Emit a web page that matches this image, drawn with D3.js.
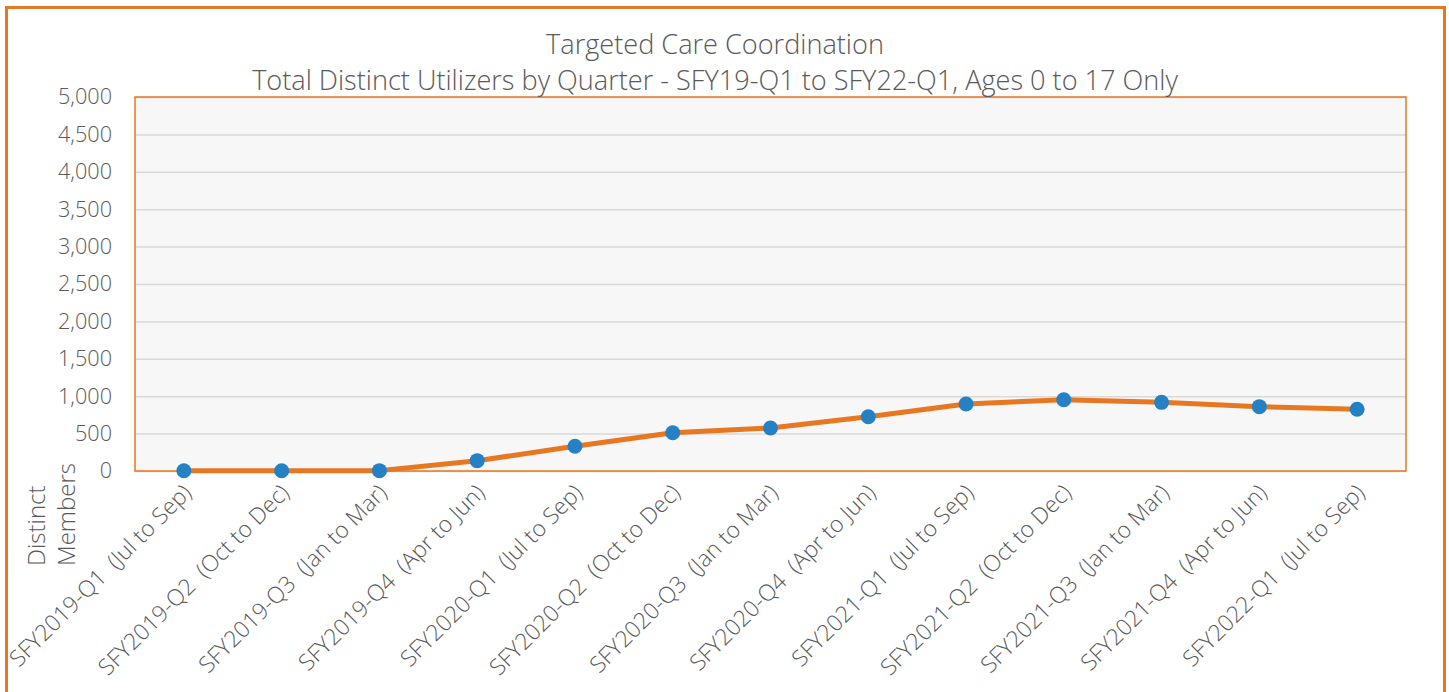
<!DOCTYPE html>
<html>
<head>
<meta charset="utf-8">
<script src="https://cdn.jsdelivr.net/npm/d3@7"></script>
<style>
  body { margin: 0; background: #fff; }
  svg text { font-family: "Open Sans", sans-serif; font-weight: 300; fill: #595959; }
</style>
</head>
<body>
<svg id="chart" width="1449" height="692"></svg>
<script>
// chart data
const quarters = [
  'SFY2019-Q1  (Jul to Sep)', 'SFY2019-Q2  (Oct to Dec)', 'SFY2019-Q3  (Jan to Mar)',
  'SFY2019-Q4  (Apr to Jun)', 'SFY2020-Q1  (Jul to Sep)', 'SFY2020-Q2  (Oct to Dec)',
  'SFY2020-Q3  (Jan to Mar)', 'SFY2020-Q4  (Apr to Jun)', 'SFY2021-Q1  (Jul to Sep)',
  'SFY2021-Q2  (Oct to Dec)', 'SFY2021-Q3  (Jan to Mar)', 'SFY2021-Q4  (Apr to Jun)',
  'SFY2022-Q1  (Jul to Sep)'
];
const utilizers = [3, 3, 5, 138, 330, 512, 575, 726, 896, 953, 918, 860, 825];
const yTicks = [0, 500, 1000, 1500, 2000, 2500, 3000, 3500, 4000, 4500, 5000];
const titleLines = [
  'Targeted Care Coordination',
  'Total Distinct Utilizers by Quarter - SFY19-Q1 to SFY22-Q1, Ages 0 to 17 Only'
];

const orange = '#e87722';
const blue = '#2581c4';

const svg = d3.select('#chart');

// pick a font size so a sample string gets a target width
function fitSize(sample, target, base) {
  const t = svg.append('text').style('font-size', base + 'px').style('white-space', 'pre').text(sample);
  const w = t.node().getComputedTextLength();
  t.remove();
  return base * target / w;
}
const titleSize = fitSize(titleLines[1], 926, 24);
const xSize = fitSize(quarters[0], 246, 19);
const ySize = fitSize('5,000', 54, 20);
const yTitleSize = fitSize('Members', 103, 22);

// outer frame
svg.append('rect')
  .attr('x', 6.5).attr('y', 7.5)
  .attr('width', 1438).attr('height', 700)
  .attr('fill', '#fff')
  .attr('stroke', orange)
  .attr('stroke-width', 3);

const margin = { top: 97, right: 43, bottom: 221, left: 135 },
  width = 1449 - margin.left - margin.right,
  height = 692 - margin.top - margin.bottom;

const g = svg.append('g')
  .attr('transform', `translate(${margin.left},${margin.top})`);

const x = d3.scaleBand()
  .domain(quarters)
  .range([0, width]);

const y = d3.scaleLinear()
  .domain([0, 5000])
  .range([height, 0]);

// plot background
g.append('rect')
  .attr('width', width).attr('height', height)
  .attr('fill', '#f7f7f7');

// grid lines
g.append('g')
  .call(d3.axisLeft(y).tickValues(yTicks).tickSize(-width).tickFormat(''))
  .call(ax => ax.select('.domain').remove())
  .call(ax => ax.selectAll('line').attr('stroke', '#d9d9d9').attr('stroke-width', 1.5));

// plot border
g.append('rect')
  .attr('width', width).attr('height', height)
  .attr('fill', 'none')
  .attr('stroke', orange)
  .attr('stroke-width', 1.5);

// y axis labels
g.append('g')
  .call(d3.axisLeft(y).tickValues(yTicks).tickSize(0).tickPadding(23).tickFormat(d3.format(',')))
  .call(ax => ax.select('.domain').remove())
  .call(ax => ax.selectAll('text').style('font-size', ySize + 'px').attr('fill', '#595959').attr('font-family', null));

// x axis labels
g.append('g')
  .attr('transform', `translate(0,${height})`)
  .call(d3.axisBottom(x).tickSize(0).tickPadding(0))
  .call(ax => ax.select('.domain').remove())
  .call(ax => ax.selectAll('text')
    .style('font-size', xSize + 'px')
    .style('white-space', 'pre')
    .attr('fill', '#595959')
    .attr('font-family', null)
    .attr('dy', null)
    .attr('text-anchor', 'end')
    .attr('transform', 'translate(9,23) rotate(-45)'));

// line
const line = d3.line()
  .x((d, i) => x(quarters[i]) + x.bandwidth() / 2)
  .y(d => y(d));

g.append('path')
  .datum(utilizers)
  .attr('fill', 'none')
  .attr('stroke', orange)
  .attr('stroke-width', 5)
  .attr('stroke-linejoin', 'round')
  .attr('d', line);

// markers
g.selectAll('circle')
  .data(utilizers)
  .enter()
  .append('circle')
  .attr('cx', (d, i) => x(quarters[i]) + x.bandwidth() / 2)
  .attr('cy', d => y(d))
  .attr('r', 7.5)
  .attr('fill', blue);

// title
svg.append('g')
  .selectAll('text')
  .data(titleLines)
  .enter()
  .append('text')
  .attr('x', 715)
  .attr('y', (d, i) => 54 + i * 36)
  .attr('text-anchor', 'middle')
  .style('font-size', titleSize + 'px')
  .text(d => d);

// y axis title
const yTitle = svg.append('text')
  .attr('transform', 'translate(45,566) rotate(-90)')
  .attr('text-anchor', 'start')
  .style('font-size', yTitleSize + 'px');
yTitle.append('tspan').attr('x', 0).attr('dy', 0).text('Distinct');
yTitle.append('tspan').attr('x', 0).attr('dy', 30).text('Members');
</script>
</body>
</html>
